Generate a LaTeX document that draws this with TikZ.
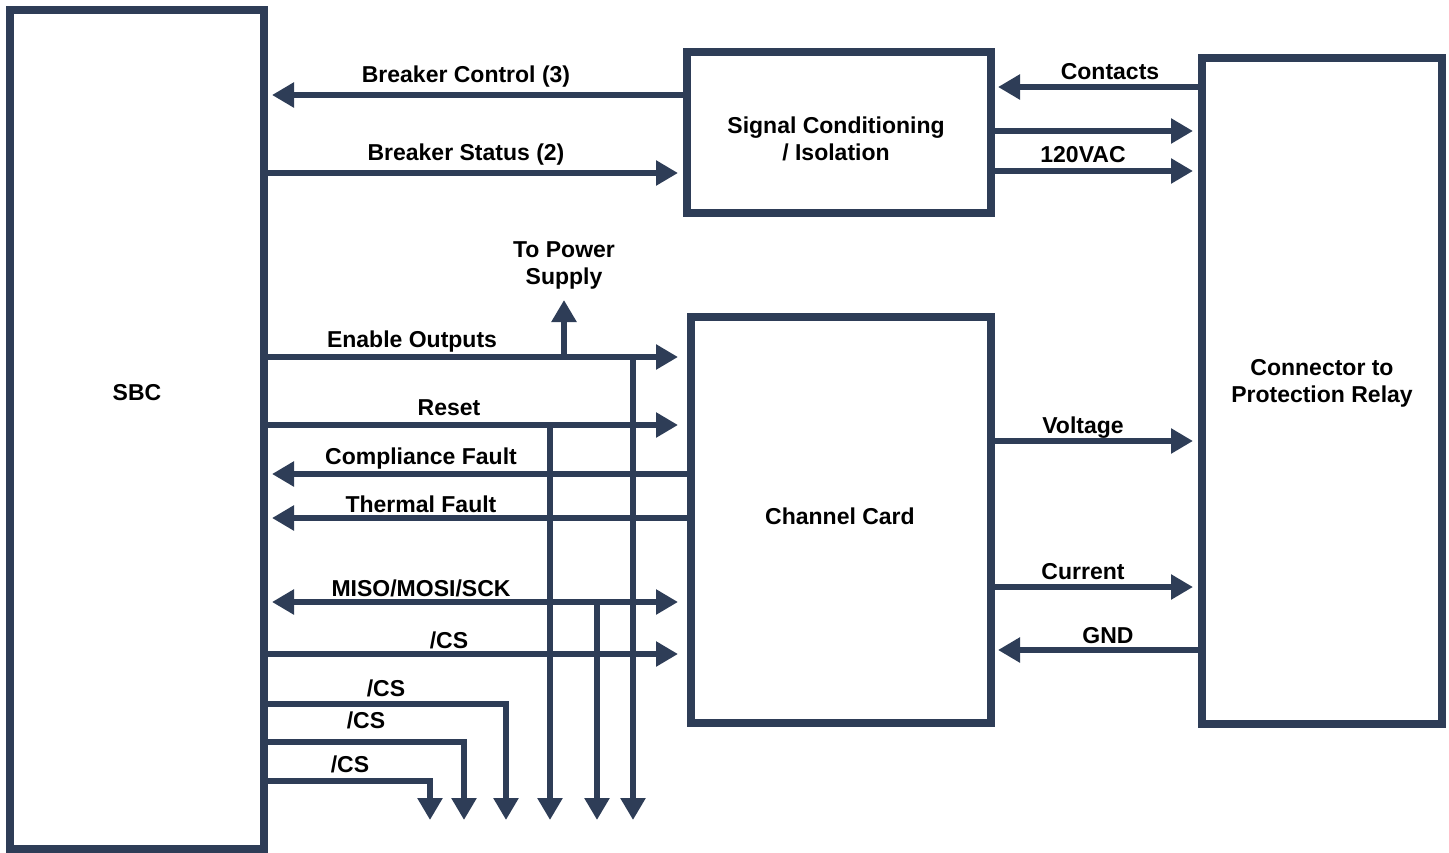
\documentclass[tikz,border=0pt]{standalone}
\usepackage{fontspec}
\setmainfont{Liberation Sans}
\usetikzlibrary{arrows.meta}
\definecolor{navy}{HTML}{2E3D57}
\tikzset{
  box/.style={draw=navy, line width=8pt, fill=none},
  conn/.style={draw=navy, line width=6pt, -{Triangle[length=22pt,width=24pt]}},
  dconn/.style={draw=navy, line width=6pt, {Triangle[length=22pt,width=24pt]}-{Triangle[length=22pt,width=24pt]}},
  plain/.style={draw=navy, line width=6pt},
  lbl/.style={font=\fontsize{23}{26}\selectfont\bfseries, text=black, inner sep=0pt},
  btxt/.style={font=\fontsize{23}{27}\selectfont\bfseries, text=black, align=center, inner sep=0pt}
}
\begin{document}
\begin{tikzpicture}[x=1pt,y=-1pt]
\useasboundingbox (0,0) rectangle (1449,852);
% boxes
\draw[box] (10,10) rectangle (264,849);
\draw[box] (687,52) rectangle (991,213);
\draw[box] (691,317) rectangle (991,723);
\draw[box] (1202,58) rectangle (1442,724);
\node[btxt] (sbc) at (137,393) {SBC};
\node[btxt] (sig) at (836,139) {Signal Conditioning\\/ Isolation};
\node[btxt] (cc) at (840,516) {Channel Card};
\node[btxt] (rel) at (1322,383) {Connector to\\Protection Relay};
% coordinates
\coordinate (bcS) at (687,95);  \coordinate (bcE) at (272,95);
\coordinate (bsS) at (264,173); \coordinate (bsE) at (678,173);
\coordinate (coS) at (1202,87); \coordinate (coE) at (998,87);
\coordinate (uS) at (991,131);  \coordinate (uE) at (1193,131);
\coordinate (vS) at (991,171);  \coordinate (vE) at (1193,171);
\coordinate (eoS) at (264,357); \coordinate (eoE) at (678,357);
\coordinate (psS) at (564,357); \coordinate (psE) at (564,300);
\coordinate (rsS) at (264,425); \coordinate (rsE) at (678,425);
\coordinate (cfS) at (691,474); \coordinate (cfE) at (272,474);
\coordinate (tfS) at (691,518); \coordinate (tfE) at (272,518);
\coordinate (spS) at (272,602); \coordinate (spE) at (678,602);
\coordinate (cs1S) at (264,654); \coordinate (cs1E) at (678,654);
\coordinate (cs2S) at (264,704); \coordinate (cs2E) at (506,820);
\coordinate (cs3S) at (264,742); \coordinate (cs3E) at (464,820);
\coordinate (cs4S) at (264,781); \coordinate (cs4E) at (430,820);
\coordinate (d1S) at (550,425); \coordinate (d1E) at (550,820);
\coordinate (d2S) at (597,602); \coordinate (d2E) at (597,820);
\coordinate (d3S) at (633,357); \coordinate (d3E) at (633,820);
\coordinate (voS) at (991,441); \coordinate (voE) at (1193,441);
\coordinate (cuS) at (991,587); \coordinate (cuE) at (1193,587);
\coordinate (gS) at (1202,650);  \coordinate (gE) at (998,650);
% connectors
\draw[conn] (bcS) -- (bcE);
\draw[conn] (bsS) -- (bsE);
\draw[conn] (coS) -- (coE);
\draw[conn] (uS) -- (uE);
\draw[conn] (vS) -- (vE);
\draw[conn] (eoS) -- (eoE);
\draw[conn] (psS) -- (psE);
\draw[conn] (rsS) -- (rsE);
\draw[conn] (cfS) -- (cfE);
\draw[conn] (tfS) -- (tfE);
\draw[dconn] (spS) -- (spE);
\draw[conn] (cs1S) -- (cs1E);
\draw[conn] (cs2S) -| (cs2E);
\draw[conn] (cs3S) -| (cs3E);
\draw[conn] (cs4S) -| (cs4E);
\draw[conn] (d1S) -- (d1E);
\draw[conn] (d2S) -- (d2E);
\draw[conn] (d3S) -- (d3E);
\draw[conn] (voS) -- (voE);
\draw[conn] (cuS) -- (cuE);
\draw[conn] (gS) -- (gE);
% labels
\node[lbl] (l1) at (466,77) {Breaker Control (3)};
\node[lbl] (l2) at (466,155) {Breaker Status (2)};
\node[lbl] (l3) at (1110,72) {Contacts};
\node[lbl] (l4) at (1083,155) {120VAC};
\node[lbl] (l5) at (412,342) {Enable Outputs};
\node[btxt] (l6) at (564,265) {To Power\\Supply};
\node[lbl] (l7) at (449,408) {Reset};
\node[lbl] (l8) at (421,459) {Compliance Fault};
\node[lbl] (l9) at (421,504) {Thermal Fault};
\node[lbl] (l10) at (421,588) {MISO/MOSI/SCK};
\node[lbl] (l11) at (449,640) {/CS};
\node[lbl] (l12) at (386,688) {/CS};
\node[lbl] (l13) at (366,720) {/CS};
\node[lbl] (l14) at (350,764) {/CS};
\node[lbl] (l15) at (1083,428) {Voltage};
\node[lbl] (l16) at (1083,572) {Current};
\node[lbl] (l17) at (1108,636) {GND};
\end{tikzpicture}
\end{document}
